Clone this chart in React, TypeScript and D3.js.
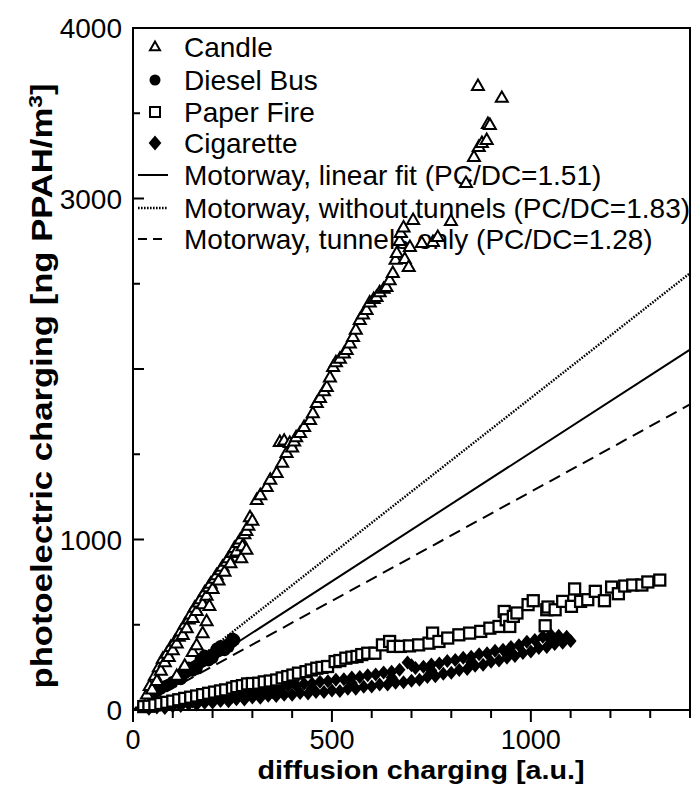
import React from "react";
import * as d3 from "d3";

const W = 692, H = 785;

// Data
const candle: [number, number][] = [
  [35,90],[42,140],[48,120],[55,200],[60,170],[65,250],[70,230],[75,300],[80,280],[85,330],[90,310],[95,370],[100,350],[105,400],[110,390],[115,430],[120,460],[125,440],[130,500],[135,480],[140,530],[145,560],[150,540],[155,600],[160,580],[165,630],[170,650],[175,620],[180,690],[185,670],[190,720],[195,740],[200,710],[205,770],[210,790],[215,760],[220,820],[225,840],[230,810],[235,870],[240,890],[245,860],[250,920],[255,950],[260,930],[265,980],[270,1000],[275,960],[280,1030],[285,1050],[290,1080],[294,1130],[300,1110],
  [110,200],[130,260],[150,340],[160,380],[175,450],[185,520],[192,610],[272,890],[285,940],
  [311,1232],[320,1260],[336,1308],[345,1350],[361,1390],[369,1572],[375,1450],[380,1580],[386,1507],[394,1566],[400,1540],[405,1575],[410,1600],[420,1625],[430,1660],[445,1701],[452,1740],[462,1800],[470,1830],[480,1870],[487,1894],[495,1950],[503,2012],[510,2040],[520,2060],[530,2090],[537,2111],[545,2150],[553,2188],[560,2230],[570,2287],[578,2320],[587,2346],[595,2390],[605,2410],[612,2422],[620,2450],[630,2470],[637,2481],[645,2520],[653,2563],[660,2640],[663,2680],[670,2750],[673,2798],[680,2830],[696,2716],[704,2874],
  [683,2645],[693,2598],[726,2739],[754,2745],[766,2774],[799,2868],[837,3091],[857,3243],[869,3302],[877,3326],[889,3343],[892,3437],[897,3431],[867,3660],[927,3590]
];

const dieselBus: [number, number][] = [
  [60,110],[70,125],[80,140],[90,150],[100,165],[110,180],[118,200],[125,205],[130,215],[135,225],[140,230],[145,240],[150,250],[155,255],[160,262],[165,270],[170,280],[175,285],[180,295],[185,300],[190,310],[195,315],[200,325],[205,330],[210,340],[215,345],[220,355],[225,360],[230,370],[235,380],[240,385],[245,395],[250,400],[255,410],
  [130,240],[150,230],[170,300],[190,290],[210,360],[230,350],[250,420],[120,180],[140,250],[160,240],[180,320],[200,305],[220,375],[240,370]
];

const paperFire: [number, number][] = [
  [27,20],[40,22],[55,30],[70,38],[85,45],[100,52],[115,60],[130,68],[145,75],[160,82],[175,90],[190,98],[205,105],[220,112],[233,118],[250,128],[261,137],[275,143],[288,153],[300,155],[316,157],[330,165],[345,170],[361,176],[375,188],[389,196],[402,205],[416,216],[435,225],[448,235],[462,245],[475,250],[489,255],[508,284],[520,290],[535,304],[550,310],[563,314],[575,325],[590,333],[608,333],[627,382],[645,402],[654,373],[672,373],[695,376],[718,382],[744,392],[753,451],[769,402],[791,422],[819,441],[846,451],[874,461],[897,480],[920,490],[933,578],[938,529],[947,490],[956,549],[965,569],[993,618],[1006,641],[1036,494],[1040,588],[1043,604],[1061,588],[1080,637],[1102,608],[1110,710],[1125,637],[1143,647],[1162,696],[1185,641],[1203,721],[1220,682],[1236,727],[1256,733],[1279,733],[1294,751],[1324,762]
];

const cigarette: [number, number][] = [
  [40,8],[60,14],[80,12],[100,22],[120,24],[140,33],[160,32],[180,42],[200,44],[220,53],[240,52],[260,63],[280,62],[300,73],[320,72],[340,83],[360,82],[380,90],[400,89],[420,99],[440,97],[460,106],[480,105],[500,115],[520,112],[540,125],[560,124],[580,137],[600,138],[620,149],[640,150],[660,160],[680,163],[700,172],[720,178],[740,193],[760,198],[780,213],[800,218],[820,235],[840,241],[860,259],[880,265],[900,283],[920,290],[940,307],[960,316],[980,335],[1000,343],[1020,363],[1040,370],[1060,387],[1080,394],[1100,405],
  [50,40],[70,46],[90,49],[110,57],[130,60],[150,70],[170,72],[190,82],[210,84],[230,94],[250,96],[270,106],[290,108],[310,118],[330,120],[350,130],[370,132],[390,142],[410,144],[430,154],[450,156],[470,166],[490,168],[510,178],[530,180],[550,190],[570,193],[590,204],[610,208],[630,220],[650,224],[670,236],[690,278],[700,262],[710,247],[730,253],[750,267],[770,273],[790,287],[810,293],[830,307],[850,313],[870,327],[890,333],[910,347],[930,353],[950,370],[970,380],[990,400],[1010,410],[1030,430],[1050,442],[1070,436],[1090,430],
  [150,50],[250,78],[350,104],[450,128],[550,158],[650,190],[750,232],[850,280],[950,340],[1050,410]
];

const fitSlopes = [1.51, 1.83, 1.28];
const fitLabels = [
  "Motorway, linear fit (PC/DC=1.51)",
  "Motorway, without tunnels (PC/DC=1.83)",
  "Motorway, tunnels only (PC/DC=1.28)"
];
const fitDash = [null, "1.6,1.4", "12,7"];
const symbolLabels = ["Candle", "Diesel Bus", "Paper Fire", "Cigarette"];

const xTickLabels = [0, 500, 1000];
const xMinorTicks = d3.range(0, 1401, 100);
const yTickLabels = [0, 1000, 3000, 4000];
const yMinorTicks = d3.range(0, 4001, 500);

const x = d3.scaleLinear().domain([0, 1400]).range([133, 690]);
const y = d3.scaleLinear().domain([0, 4000]).range([710, 28]);

const triPath = (cx: number, cy: number, s = 12) => {
  const h = s * 0.87;
  return `M${cx},${cy - h * 0.62}L${cx + s / 2},${cy + h * 0.38}L${cx - s / 2},${cy + h * 0.38}Z`;
};
const diamondPath = (cx: number, cy: number, r = 7) =>
  `M${cx},${cy - r}L${cx + r * 0.85},${cy}L${cx},${cy + r}L${cx - r * 0.85},${cy}Z`;

function Triangle({ cx, cy, s = 12 }: { cx: number; cy: number; s?: number }) {
  return <path d={triPath(cx, cy, s)} fill="white" stroke="black" strokeWidth={2} />;
}
function Square({ cx, cy }: { cx: number; cy: number }) {
  return <rect x={cx - 5.5} y={cy - 5.5} width={11} height={11} fill="white" stroke="black" strokeWidth={2.3} />;
}
function Dot({ cx, cy }: { cx: number; cy: number }) {
  return <circle cx={cx} cy={cy} r={6} fill="black" />;
}
function Diamond({ cx, cy }: { cx: number; cy: number }) {
  return <path d={diamondPath(cx, cy)} fill="black" />;
}

export default function App() {
  const font = "'Liberation Sans', Arial, Helvetica, sans-serif";
  const legendRows = [47, 80, 112, 143, 175, 208, 239];
  const symX = 155, textX = 184;
  return (
    <svg width={W} height={H} style={{ position: "absolute", left: 0, top: 0, background: "white" }} fontFamily={font}>
      <rect width={W} height={H} fill="white" />
      {/* fit lines */}
      {fitSlopes.map((s, i) => (
        <line key={i} x1={x(0)} y1={y(0)} x2={x(1400)} y2={y(1400 * s)} stroke="black"
          strokeWidth={i === 1 ? 2.4 : 2} strokeDasharray={fitDash[i] ?? undefined} />
      ))}
      {/* legend */}
      <g fontSize={28}>
        <Triangle cx={symX} cy={legendRows[0]} s={10} />
        <circle cx={symX} cy={legendRows[1]} r={5.5} fill="black" />
        <rect x={symX - 5} y={legendRows[2] - 5} width={10} height={10} fill="white" stroke="black" strokeWidth={2} />
        <path d={diamondPath(symX, legendRows[3], 7.5)} fill="black" />
        {fitSlopes.map((s, i) => (
          <line key={i} x1={138} x2={168} y1={legendRows[4 + i]} y2={legendRows[4 + i]} stroke="black"
            strokeWidth={i === 1 ? 2.4 : 2} strokeDasharray={i === 2 ? "9,6" : fitDash[i] ?? undefined} />
        ))}
        {[...symbolLabels, ...fitLabels].map((t, i) => (
          <text key={t} x={textX} y={legendRows[i] + 10}>{t}</text>
        ))}
      </g>
      {/* data */}
      <g>
        {cigarette.map((d, i) => <Diamond key={"c" + i} cx={x(d[0])} cy={y(d[1])} />)}
        {paperFire.map((d, i) => <Square key={"p" + i} cx={x(d[0])} cy={y(d[1])} />)}
        {dieselBus.map((d, i) => <Dot key={"d" + i} cx={x(d[0])} cy={y(d[1])} />)}
        {candle.map((d, i) => <Triangle key={"t" + i} cx={x(d[0])} cy={y(d[1])} />)}
      </g>
      {/* frame */}
      <rect x={133} y={28} width={690 - 133} height={710 - 28} fill="none" stroke="black" strokeWidth={2} />
      {/* x ticks */}
      {xMinorTicks.map((t) => (
        <line key={t} x1={x(t)} x2={x(t)} y1={710} y2={710 + (t % 500 === 0 ? 12 : 8)} stroke="black" strokeWidth={2} />
      ))}
      {xTickLabels.map((t) => (
        <text key={t} x={x(t)} y={749} fontSize={27} textAnchor="middle">{t}</text>
      ))}
      {/* y ticks */}
      {yMinorTicks.map((t) => (
        <line key={t} x1={133} x2={133 + (t % 1000 === 0 ? 11 : 7)} y1={y(t)} y2={y(t)} stroke="black" strokeWidth={2} />
      ))}
      {yTickLabels.map((t) => (
        <text key={t} x={122} y={y(t) + 10} fontSize={28} textAnchor="end">{t}</text>
      ))}
      {/* axis titles */}
      <text x={421} y={779} fontSize={25.5} fontWeight="bold" textAnchor="middle"
        textLength={327} lengthAdjust="spacingAndGlyphs">diffusion  charging [a.u.]</text>
      <text transform={`translate(52,386) rotate(-90)`} fontSize={29} fontWeight="bold" textAnchor="middle"
        textLength={605} lengthAdjust="spacingAndGlyphs">
        photoelectric charging [ng PPAH/m<tspan dy={-10} fontSize={19}>3</tspan><tspan dy={10}>]</tspan>
      </text>
    </svg>
  );
}
